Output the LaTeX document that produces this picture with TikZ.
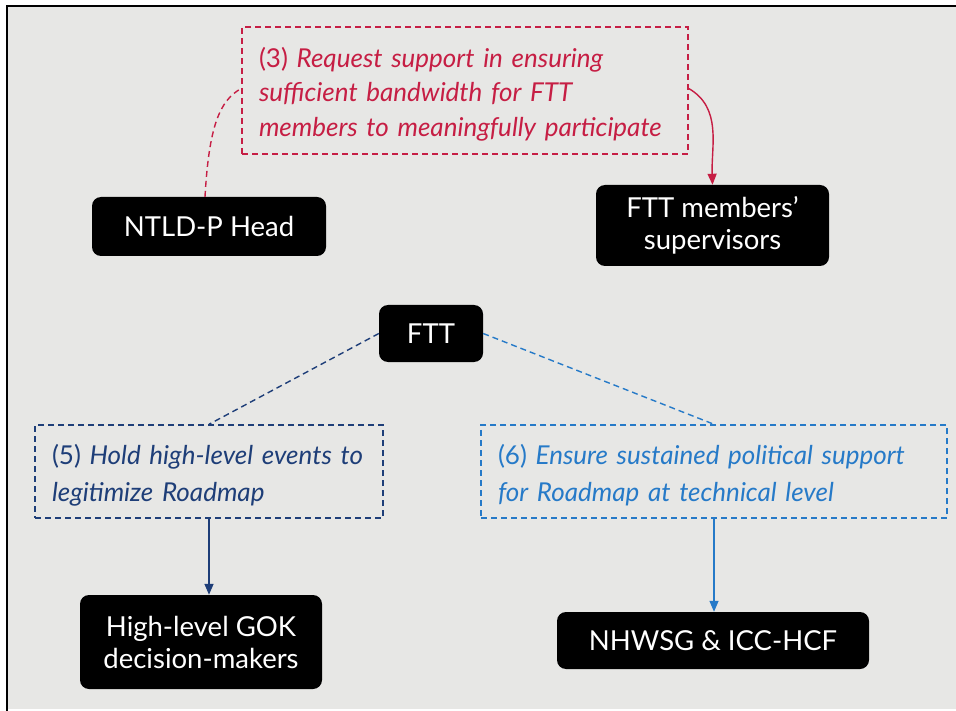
\documentclass[tikz,border=0pt]{standalone}
\usepackage{fontspec}
\setmainfont{Lato}
\usetikzlibrary{arrows.meta,calc}
\definecolor{panelgrey}{RGB}{231,231,229}
\definecolor{actred}{RGB}{198,30,68}
\definecolor{actnavy}{RGB}{30,62,120}
\definecolor{actblue}{RGB}{38,122,200}
% a tall strut on the first line sets the text a little below centre
\newcommand{\toproom}{\rule{0pt}{27pt}}
\tikzset{
  actor/.style={fill=black, text=white, rounded corners=9pt, align=center,
    inner sep=0pt, font=\fontsize{27.5}{32}\selectfont},
  actionbox/.style={draw, dashed, dash pattern=on 6pt off 4pt, line width=1.4pt,
    inner xsep=17pt, inner ysep=0pt, align=left},
  link/.style={line width=1.4pt, dash pattern=on 6pt off 4pt},
  flow/.style={line width=1.4pt, -{Triangle[length=11pt,width=9pt]}},
}
\begin{document}
\begin{tikzpicture}[x=1pt,y=-1pt]
  \useasboundingbox (0,0) rectangle (956,711);
  % panel with its frame on the left and top
  \fill[white] (0,0) rectangle (956,711);
  \fill[panelgrey] (7,6) rectangle (956,709);
  \draw[line width=2.2pt] (7,711) -- (7,6) -- (956,6);

  % actors
  \node[actor, minimum width=234pt, minimum height=59pt] (ntld) at (209,226.5) {NTLD-P Head};
  \node[actor, minimum width=233pt, minimum height=81pt] (sup) at (712.5,225.5) {FTT members’\\supervisors};
  \node[actor, minimum width=104pt, minimum height=57pt] (ftt) at (431,333.5) {FTT};
  \node[actor, minimum width=242pt, minimum height=94pt] (gok) at (201,642) {High-level GOK\\decision-makers};
  \node[actor, minimum width=312pt, minimum height=57pt] (nh) at (713,640.5) {NHWSG \& ICC-HCF};

  % actions
  \node[actionbox, actred, text=actred, minimum height=127pt, text width=412pt,
    font=\fontsize{26}{34.5}\selectfont] (r3) at (465,90.5)
    {\toproom(3) \textit{Request support in ensuring}\\\textit{sufficient bandwidth for FTT}\\\textit{members to meaningfully participate}};
  \node[actionbox, actnavy, text=actnavy, minimum height=93pt, text width=314pt,
    font=\fontsize{26}{37}\selectfont] (b5) at (209,471.5)
    {\toproom(5) \textit{Hold high-level events to}\\\textit{legitimize Roadmap}};
  \node[actionbox, actblue, text=actblue, minimum height=93pt, text width=432pt,
    font=\fontsize{26}{37}\selectfont] (b6) at (714,471.5)
    {\toproom(6) \textit{Ensure sustained political support}\\\textit{for Roadmap at technical level}};

  % connectors
  \draw[link, actred] ($(ntld.north)+(-4,0)$)
    .. controls ($(ntld.north)+(0,-70)$) and ($(r3.west)+(-22,10)$) .. ($(r3.west)+(0,-2)$);
  \draw[flow, actred] ($(r3.east)+(0,-2)$) to[out=-30,in=92] (sup.north);
  \draw[link, actnavy] (ftt.west) -- (b5.north);
  \draw[link, actblue] (ftt.east) -- (b6.north);
  \draw[flow, actnavy] (b5.south) -- (b5.south |- gok.north);
  \draw[flow, actblue] (b6.south) -- (b6.south |- nh.north);
\end{tikzpicture}
\end{document}
